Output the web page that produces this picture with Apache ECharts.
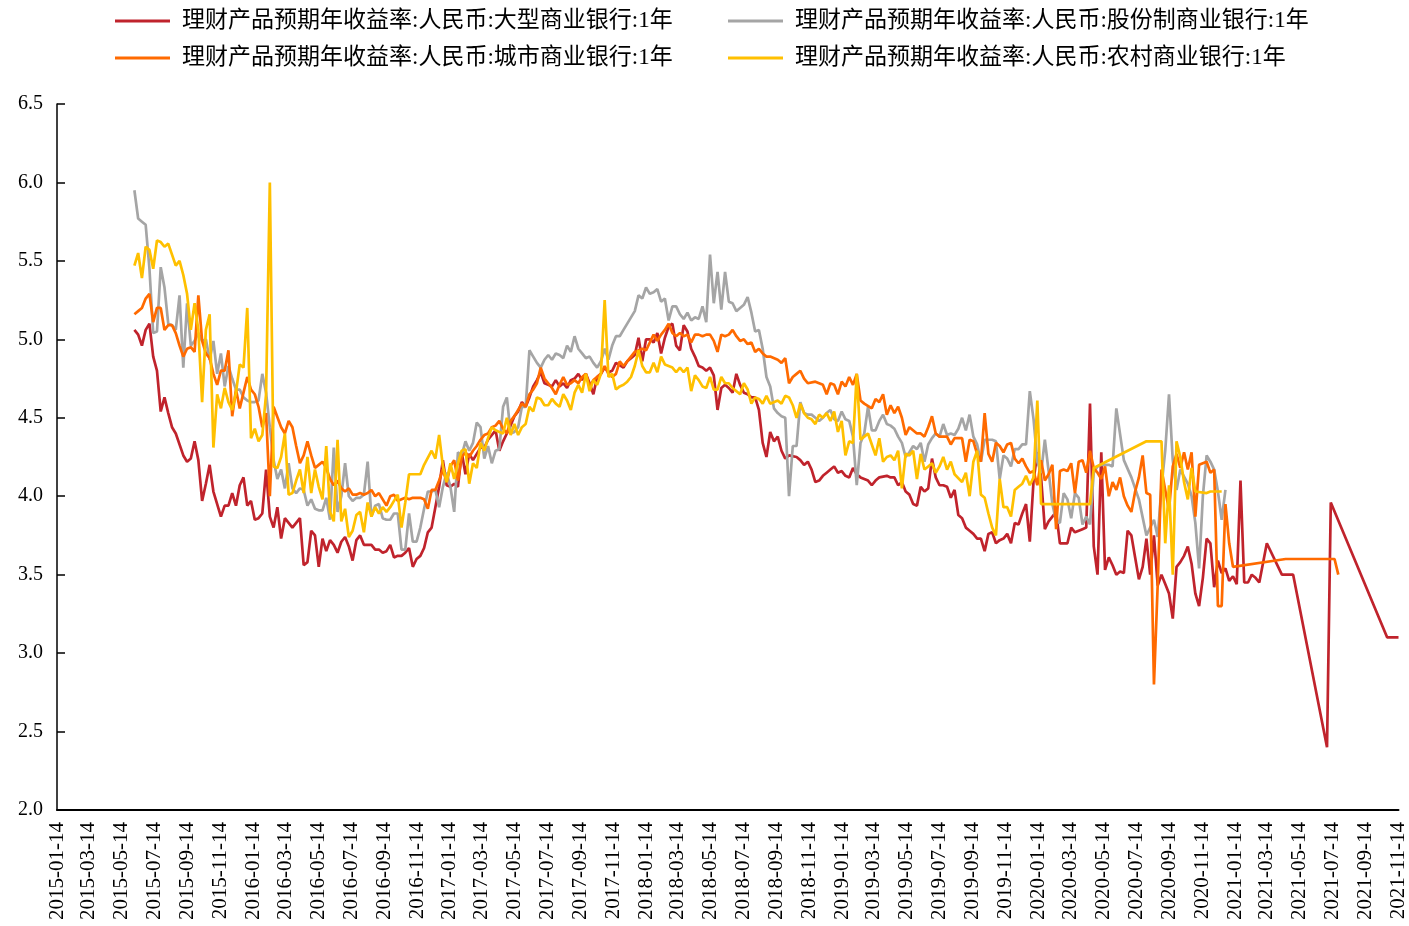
<!DOCTYPE html>
<html>
<head>
<meta charset="utf-8">
<script src="https://cdn.jsdelivr.net/npm/echarts@6/dist/echarts.min.js"></script>
<style>
  html, body { margin: 0; padding: 0; background: #fff; }
  #chart { width: 1409px; height: 926px; }
</style>
</head>
<body>
<div id="chart"></div>
<script>
// 理财产品预期年收益率（1年期），周度数据
const names = [
  '理财产品预期年收益率:人民币:大型商业银行:1年',
  '理财产品预期年收益率:人民币:股份制商业银行:1年',
  '理财产品预期年收益率:人民币:城市商业银行:1年',
  '理财产品预期年收益率:人民币:农村商业银行:1年',
];
const colors = ['#C0232C', '#A5A5A5', '#FF6A00', '#FFC000'];

// 横轴刻度（每两个月）
const tickDates = [
  '2015-01-14', '2015-03-14', '2015-05-14', '2015-07-14', '2015-09-14', '2015-11-14',
  '2016-01-14', '2016-03-14', '2016-05-14', '2016-07-14', '2016-09-14', '2016-11-14',
  '2017-01-14', '2017-03-14', '2017-05-14', '2017-07-14', '2017-09-14', '2017-11-14',
  '2018-01-14', '2018-03-14', '2018-05-14', '2018-07-14', '2018-09-14', '2018-11-14',
  '2019-01-14', '2019-03-14', '2019-05-14', '2019-07-14', '2019-09-14', '2019-11-14',
  '2020-01-14', '2020-03-14', '2020-05-14', '2020-07-14', '2020-09-14', '2020-11-14',
  '2021-01-14', '2021-03-14', '2021-05-14', '2021-07-14', '2021-09-14', '2021-11-14',
];

// 第一周的日期，之后每个值相隔一周；null = 该周无数据（连线跨过）
const weekStart = '2015-06-07';

const bigBank = [
  5.06, 5.03, 4.96, 5.06, 5.10, 4.89, 4.80, 4.54, 4.63, 4.53,
  4.44, 4.40, null, 4.26, 4.22, 4.24, 4.35, 4.23, 3.97, 4.08,
  4.20, 4.03, null, 3.87, 3.94, 3.94, 4.02, 3.94, 4.07, 4.12,
  3.94, 3.97, 3.85, 3.86, 3.89, 4.17, 3.87, 3.80, 3.93, 3.73,
  3.86, 3.83, 3.80, null, 3.86, 3.56, 3.58, 3.78, 3.75, 3.55,
  3.73, 3.65, 3.72, 3.69, 3.64, 3.71, 3.74, 3.68, 3.59, 3.72,
  3.75, 3.69, 3.69, 3.69, 3.66, 3.66, 3.64, 3.65, 3.69, 3.61,
  3.62, 3.62, 3.64, 3.67, 3.55, 3.60, 3.62, 3.67, 3.77, 3.80,
  3.93, 4.06, 4.23, 4.07, 4.06, 4.08, 4.06, 4.28, 4.14, 4.27,
  4.23, 4.27, 4.31, 4.31, 4.36, null, 4.42, 4.29, 4.35, 4.40,
  4.45, 4.51, 4.54, 4.60, 4.57, 4.63, 4.70, 4.74, 4.79, 4.72,
  4.71, 4.70, 4.74, 4.70, 4.72, 4.69, 4.74, 4.75, 4.78, 4.74,
  4.78, 4.72, 4.65, 4.76, 4.78, 4.82, 4.79, 4.80, 4.85, null,
  4.82, 4.86, 4.88, 4.90, 5.01, 4.86, 5.00, 5.00, 4.98, 5.04,
  4.91, 5.01, 5.08, 5.10, 4.96, 4.93, 5.09, 5.05, 4.94, 4.89,
  4.83, 4.82, 4.80, 4.82, 4.77, 4.55, 4.69, 4.71, 4.69, 4.66,
  4.78, 4.71, 4.66, 4.65, 4.63, 4.63, 4.55, 4.34, 4.25, 4.41,
  4.35, 4.38, 4.29, 4.24, 4.26, null, 4.25, 4.23, 4.20, 4.22,
  4.17, 4.09, 4.10, 4.13, 4.15, 4.17, 4.19, 4.15, 4.16, 4.13,
  4.12, 4.18, 4.14, 4.12, null, 4.10, 4.07, 4.10, 4.12, null,
  4.13, 4.12, 4.12, 4.07, 4.09, 4.03, 4.01, 3.95, 3.94, 4.06,
  4.03, 4.05, 4.24, 4.12, 4.07, 4.07, 4.06, 3.99, 4.04, 3.88,
  3.86, 3.80, 3.78, 3.76, 3.73, 3.73, 3.65, 3.76, 3.77, 3.70,
  3.72, 3.73, 3.76, 3.70, 3.83, 3.82, 3.89, 3.95, 3.71, 4.10,
  4.28, 4.12, 3.79, 3.84, 3.87, 3.90, 3.70, 3.70, 3.70, 3.80,
  3.77, null, 3.79, 3.80, 4.59, 3.68, 3.50, 4.28, 3.53, 3.61,
  3.56, 3.50, 3.52, 3.51, 3.78, 3.75, 3.61, 3.47, 3.55, 3.73,
  3.50, 3.75, 3.43, 3.50, 3.44, 3.38, 3.22, 3.55, 3.58, 3.62,
  3.68, 3.57, 3.38, 3.30, 3.48, 3.73, 3.70, 3.42, 3.59, 3.51,
  3.54, 3.46, 3.49, 3.44, 4.10, 3.45, 3.45, 3.50, 3.48, 3.45,
  null, 3.70, null, null, null, 3.50, null, null, 3.50, null,
  null, null, null, null, null, null, null, 2.40, 3.96, null,
  null, null, null, null, null, null, null, null, null, null,
  null, null, null, 3.10, null, null, 3.10,
];

const jointStock = [
  5.95, 5.77, 5.75, 5.73, 5.45, 5.04, 5.05, 5.46, 5.33, 5.10,
  5.09, 5.06, 5.28, 4.82, 5.23, 4.96, 4.99, 5.04, 4.99, 5.00,
  4.87, 4.99, 4.78, 4.91, 4.70, 4.83, 4.75, 4.68, 4.68, 4.63,
  4.61, 4.60, 4.60, 4.61, 4.78, 4.66, 4.44, 4.23, 4.11, 4.17,
  4.05, 4.21, 4.05, 4.02, 4.05, 4.04, 3.94, 3.98, 3.92, 3.91,
  3.91, 3.99, 3.85, 4.31, 3.90, 4.00, 4.21, 4.00, 3.97, 3.99,
  3.99, 4.01, 4.22, 3.87, 3.94, 3.95, 3.86, 3.85, 3.85, 3.89,
  3.89, 3.66, 3.66, 3.89, 3.71, 3.71, 3.80, 3.92, 4.03, 4.03,
  4.04, 3.93, 4.06, 4.15, 4.06, 3.90, 4.28, 4.26, 4.35, 4.29,
  4.34, 4.47, 4.44, 4.24, 4.32, 4.21, 4.29, 4.30, 4.57, 4.63,
  4.40, 4.41, 4.44, 4.57, 4.57, 4.93, 4.89, 4.85, 4.82, 4.87,
  4.90, 4.87, 4.91, 4.90, 4.88, 4.96, 4.92, 5.02, 4.94, 4.91,
  4.88, 4.89, 4.85, 4.82, 4.86, 4.94, 4.87, 4.96, 5.02, 5.02,
  5.06, 5.10, 5.14, 5.18, 5.28, 5.26, 5.33, 5.29, 5.30, 5.32,
  5.24, 5.26, 5.12, 5.21, 5.21, 5.16, 5.13, 5.17, 5.12, 5.14,
  5.13, 5.21, 5.11, 5.54, 5.23, 5.43, 5.19, 5.43, 5.24, 5.23,
  5.18, 5.20, 5.22, 5.27, 5.17, 5.05, 5.06, 4.94, 4.76, 4.70,
  4.56, 4.53, 4.51, 4.50, 4.00, 4.32, 4.32, 4.60, 4.53, 4.52,
  4.52, 4.50, 4.48, 4.50, 4.53, 4.55, 4.49, 4.48, 4.54, 4.49,
  4.48, 4.38, 4.07, 4.34, 4.40, 4.57, 4.42, 4.42, 4.48, 4.52,
  4.46, 4.45, 4.43, 4.38, 4.34, 4.25, 4.28, 4.32, 4.30, 4.34,
  4.22, 4.33, 4.37, 4.40, 4.38, 4.46, 4.39, 4.40, 4.39, 4.43,
  4.50, 4.42, 4.52, 4.38, 4.33, 4.22, 4.36, 4.36, 4.36, 4.35,
  4.11, 4.26, 4.24, 4.19, 4.30, 4.30, 4.33, 4.33, 4.67, 4.49,
  4.22, 4.15, 4.36, 4.16, 3.95, 3.84, 3.83, 4.02, 3.98, 3.86,
  4.02, 3.99, 3.82, 3.87, 3.82, 4.15, 4.19, 4.20, 4.20, 4.20,
  4.19, 4.56, null, 4.23, null, 4.12, null, 3.98, null, 3.75,
  null, 3.85, 3.74, 4.06, 4.29, 4.65, 4.23, 4.04, 4.17, null,
  4.08, 4.00, 3.83, 3.54, 4.00, 4.26, 4.22, 4.17, 4.03, 3.85,
  4.04,
];

const cityBank = [
  5.16, 5.18, 5.20, 5.26, 5.29, 5.11, 5.20, 5.20, 5.06, 5.09,
  5.09, 5.04, 4.96, 4.89, 4.94, 4.95, 4.92, 5.28, 4.99, 4.91,
  4.88, 4.78, 4.71, 4.80, 4.80, 4.93, 4.51, 4.68, 4.56, 4.66,
  4.76, 4.68, 4.65, 4.57, 4.44, 4.53, 4.00, 4.57, null, 4.44,
  4.40, 4.48, 4.44, 4.32, 4.21, 4.26, 4.35, 4.26, 4.18, 4.20,
  4.22, 4.18, 4.11, 4.07, 4.10, 4.05, 4.03, 4.05, 4.01, 4.01,
  4.02, 4.01, 4.02, 4.04, 4.00, 4.02, 3.98, 3.94, 4.00, 4.01,
  3.97, 3.98, 3.99, 3.98, 3.99, 3.99, 3.99, 3.98, 3.92, 4.04,
  4.04, 4.10, 4.17, 4.09, 4.19, 4.23, 4.10, 4.25, 4.28, 4.25,
  4.29, 4.32, 4.36, 4.39, 4.40, 4.44, 4.45, 4.48, 4.43, 4.40,
  4.48, 4.51, 4.55, 4.59, 4.57, 4.65, 4.68, 4.72, 4.82, 4.75,
  4.72, 4.69, 4.65, 4.71, 4.76, 4.71, 4.72, 4.74, 4.72, 4.76,
  4.78, 4.70, 4.74, null, 4.78, 4.83, 4.78, 4.76, 4.78, 4.86,
  4.83, 4.86, 4.89, 4.92, null, 4.94, 4.93, 4.98, 5.03, 4.99,
  5.03, 5.06, 5.10, 5.04, 5.02, 5.04, 5.02, 5.03, 4.98, 5.03,
  5.03, 5.02, 5.03, 5.03, 4.99, 4.92, 5.03, 5.02, 5.03, 5.06,
  5.02, 4.99, 5.00, 4.97, 4.98, 4.92, 4.94, 4.91, 4.89, 4.89,
  null, 4.87, 4.85, 4.88, 4.72, 4.76, 4.78, 4.80, 4.75, 4.72,
  null, 4.73, 4.72, 4.71, 4.65, 4.72, 4.71, 4.65, 4.73, 4.70,
  4.76, 4.71, 4.78, 4.61, 4.59, null, 4.56, 4.62, 4.60, 4.65,
  4.52, 4.58, 4.53, 4.57, 4.50, 4.39, 4.44, null, 4.40, 4.40,
  4.38, 4.44, 4.51, 4.40, 4.38, 4.38, 4.38, 4.33, 4.37, null,
  4.37, 4.22, 4.36, 4.35, 4.27, 4.22, 4.53, 4.27, 4.22, 4.34,
  4.32, 4.28, 4.33, 4.34, 4.24, 4.21, 4.24, 4.19, 4.15, 4.16,
  4.07, 4.23, 4.10, 4.14, 4.20, 3.79, 4.16, 4.17, 4.16, 4.21,
  4.02, 4.22, 4.23, 4.15, 4.29, 4.18, 4.15, 4.11, 4.19, 4.00,
  4.09, 4.04, 4.12, 4.00, 3.94, 3.90, 4.03, 4.12, 4.26, 4.02,
  4.01, 2.80, 3.44, 4.17, 4.04, 3.91, 4.19, 4.27, 4.18, 4.28,
  4.17, 4.28, 3.87, 4.20, 4.21, 4.22, 4.15, 4.17, 3.30, 3.30,
  3.95, 3.70, 3.55, null, null, null, null, null, null, null,
  null, null, null, null, null, null, 3.60, null, null, null,
  null, null, null, null, null, null, null, null, null, 3.60,
  3.50,
];

const ruralBank = [
  5.47, 5.55, 5.39, 5.59, 5.57, 5.45, 5.63, 5.62, 5.59, 5.61,
  5.54, 5.47, 5.50, 5.41, 5.29, 5.06, 5.23, 5.06, 4.60, 5.06,
  5.16, 4.31, 4.65, 4.56, 4.69, 4.60, 4.55, 4.66, 4.84, 4.82,
  5.20, 4.37, 4.43, 4.35, 4.39, 4.65, 6.00, 4.19, 4.18, 4.25,
  4.40, 4.01, 4.02, 4.10, 4.17, 4.02, 4.25, 4.02, 4.17, 4.06,
  3.98, 4.32, 3.90, 3.84, 4.36, 3.84, 3.92, 3.74, 3.78, 3.88,
  3.90, 3.77, 3.96, 3.87, 3.93, 3.89, 3.93, 3.90, 3.93, 3.97,
  4.01, 3.80, 3.96, 4.14, 4.14, 4.14, 4.14, 4.20, null, 4.29,
  4.24, 4.39, 4.19, 4.09, 4.21, 4.11, 4.21, 4.29, 4.30, 4.08,
  4.21, 4.18, 4.34, 4.29, 4.37, 4.44, 4.42, 4.41, 4.40, 4.50,
  4.39, 4.46, 4.39, 4.44, 4.46, 4.57, 4.54, 4.63, 4.62, 4.58,
  4.58, 4.62, 4.59, 4.57, 4.65, 4.61, 4.55, 4.66, 4.71, 4.66,
  4.78, 4.67, 4.74, 4.71, 4.78, 5.25, 4.76, 4.78, 4.68, 4.70,
  4.71, 4.73, 4.76, 4.83, 4.93, 4.83, 4.79, 4.79, 4.85, 4.79,
  4.89, 4.84, null, 4.82, 4.79, 4.82, 4.79, 4.82, 4.67, 4.77,
  4.74, 4.70, 4.69, 4.76, 4.68, 4.68, 4.76, 4.72, 4.72, 4.69,
  null, 4.65, 4.72, 4.68, 4.59, 4.63, 4.62, 4.59, 4.64, 4.59,
  null, 4.61, 4.59, 4.64, 4.63, 4.58, 4.50, 4.59, 4.53, 4.50,
  4.49, 4.46, 4.52, 4.50, 4.53, 4.48, 4.54, 4.41, 4.48, 4.26,
  4.35, 4.34, 4.78, 4.36, 4.38, 4.40, 4.33, 4.26, 4.37, 4.22,
  4.25, 4.26, 4.23, 4.29, 4.05, 4.27, 4.26, 4.29, 4.11, 4.27,
  4.17, 4.19, 4.21, 4.15, 4.19, 4.25, 4.17, 4.22, 4.14, null,
  4.09, 4.15, 4.00, 4.22, 4.29, 4.01, 3.99, 3.89, 3.80, 3.75,
  4.11, 3.93, 3.93, 3.87, 4.04, 4.06, 4.08, 4.13, 4.07, 4.12,
  4.61, 3.95, null, null, null, null, null, null, null, null,
  null, null, null, null, 3.95, 4.18, null, null, null, null,
  null, null, null, null, null, null, null, null, null, 4.35,
  null, null, null, 4.35, 3.70, 4.07, 3.50, 4.35, 4.25, 4.09,
  3.98, 4.18, 4.03, null, null, 4.02, 4.03, null, null, 4.03,
];

const seriesData = [bigBank, jointStock, cityBank, ruralBank];

const FONT = "'Liberation Serif', 'Noto Sans CJK SC', serif";
const DAY = 86400000;
const ORIGIN = Date.UTC(2015, 0, 14);
const toDay = (s) => {
  const [y, m, d] = s.split('-').map(Number);
  return (Date.UTC(y, m - 1, d) - ORIGIN) / DAY;
};
const start = toDay(weekStart);
const tickDays = tickDates.map(toDay);
const labelByDay = new Map(tickDays.map((d, i) => [d, tickDates[i]]));

// 周度值 -> [距离起点天数, 值]，空周直接跳过
const toPoints = (vals) => vals
  .map((v, i) => [start + 7 * i, v])
  .filter((p) => p[1] !== null);

const chart = echarts.init(document.getElementById('chart'), null, { renderer: 'canvas' });

const legendPos = [[115, 9], [728, 9], [115, 46], [728, 46]];

chart.setOption({
  backgroundColor: '#fff',
  animation: false,
  color: colors,
  legend: names.map((n, i) => ({
    data: [n],
    left: legendPos[i][0],
    top: legendPos[i][1],
    padding: 0,
    icon: 'rect',
    itemWidth: 55,
    itemHeight: 3,
    textStyle: { fontFamily: FONT, fontSize: 23, color: '#000', padding: [0, 0, 0, 7], lineHeight: 24 },
  })),
  grid: { left: 57, right: 8, top: 104, bottom: 116 },
  xAxis: {
    type: 'value',
    min: 0,
    max: tickDays[tickDays.length - 1],
    axisLine: { show: true, lineStyle: { color: '#000', width: 2 } },
    axisTick: { show: false },
    splitLine: { show: false },
    axisLabel: {
      customValues: tickDays,
      rotate: 90,
      margin: 12,
      fontFamily: FONT,
      fontSize: 21,
      color: '#000',
      formatter: (v) => labelByDay.get(v) || '',
    },
  },
  yAxis: {
    type: 'value',
    min: 2,
    max: 6.5,
    interval: 0.5,
    axisLine: { show: true, lineStyle: { color: '#000', width: 1.5 } },
    axisTick: { show: true, inside: true, length: 8, lineStyle: { color: '#000', width: 1.5 } },
    splitLine: { show: false },
    axisLabel: {
      margin: 14,
      fontFamily: FONT,
      fontSize: 20,
      color: '#000',
      formatter: (v) => v.toFixed(1),
    },
  },
  series: names.map((n, i) => ({
    name: n,
    type: 'line',
    data: toPoints(seriesData[i]),
    showSymbol: false,
    symbol: 'none',
    connectNulls: true,
    lineStyle: { color: colors[i], width: 2.7 },
    itemStyle: { color: colors[i] },
  })),
});

window.addEventListener('resize', () => chart.resize());
</script>
</body>
</html>
